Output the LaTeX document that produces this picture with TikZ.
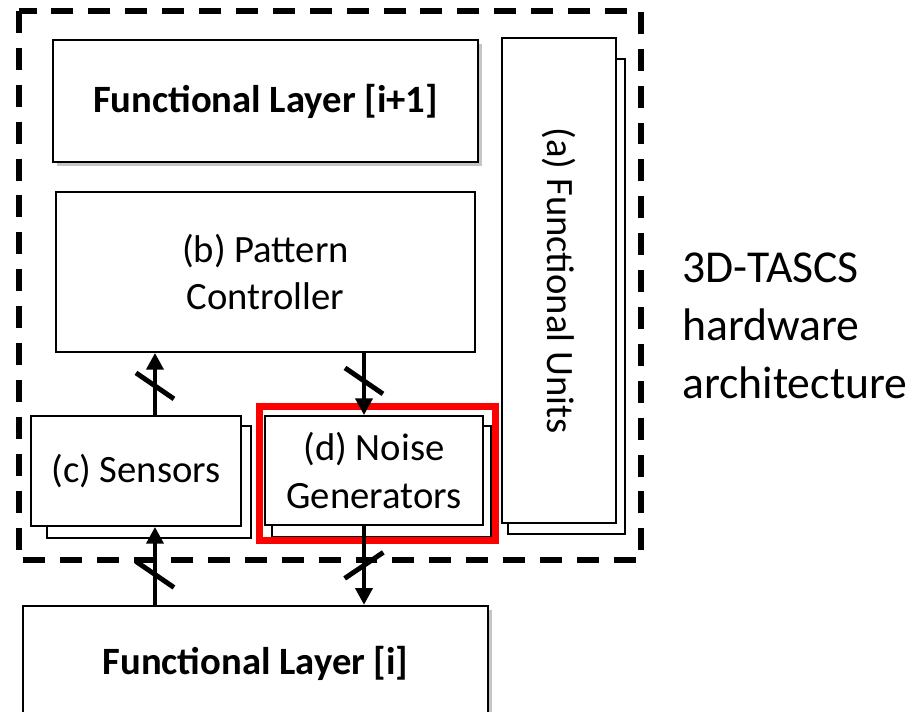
\documentclass[tikz,border=0pt]{standalone}
\usepackage{fontspec}
\setmainfont{Carlito}
\usepackage{tikz}
\usetikzlibrary{arrows.meta, positioning, backgrounds, shadows, decorations.markings}
\definecolor{hilite}{HTML}{FF0000}

\begin{document}
\begin{tikzpicture}[
  x=0.02cm, y=-0.02cm,
  font=\fontsize{22}{27}\selectfont,
  box/.style={rectangle, draw=black, line width=1pt, fill=white, align=center, inner sep=0pt},
  layer/.style={box, line width=1.3pt, font=\fontsize{22}{27}\selectfont\bfseries,
                drop shadow={shadow xshift=2.5pt, shadow yshift=-2.5pt, fill=black!45, opacity=0.5}},
  back/.style={draw=black, line width=1pt, fill=white},
  bus/.style={-{Triangle[length=9.5pt, width=9.5pt]}, line width=2.8pt},
  buscut/.style={postaction={decorate}, decoration={markings, mark=at position #1 with
                 {\draw[-, line width=2.8pt] (-7.4pt,-10.8pt) -- (7.4pt,10.8pt);}}},
  buscutr/.style={postaction={decorate}, decoration={markings, mark=at position #1 with
                 {\draw[-, line width=2.8pt] (7.4pt,-11pt) -- (-7.4pt,11pt);}}},
  frame/.style={draw=black, line width=3.4pt, dash pattern=on 12.5pt off 8.5pt},
  hilitebox/.style={draw=hilite, line width=4pt}
]
  \useasboundingbox (0,0) rectangle (923,711);

  \draw[frame] (19,11) rectangle (641,560);

  \node[layer, minimum width=8.5cm, minimum height=2.44cm] (top) at (265.5,101) {Functional Layer [i+1]};
  \node[box, minimum width=2.28cm, minimum height=9.7cm] (fu) at (559,280.5) {};
  \node[rotate=-90] (fulbl) at (fu.center) {(a) Functional Units};
  \node[box, minimum width=8.38cm, minimum height=3.2cm] (pc) at (265.5,272) {(b) Pattern\\Controller};
  \node[box, minimum width=4.2cm, minimum height=2.2cm] (sens) at (136,471) {(c) Sensors};
  \node[box, minimum width=4.36cm, minimum height=2.18cm] (ng) at (374,470.5) {(d) Noise\\Generators};
  \node[layer, minimum width=9.3cm, minimum height=2.28cm] (bot) at (255.5,663) {Functional Layer [i]};

  \begin{scope}[on background layer]
    \draw[back] ([shift={(7,22)}]fu.north west) rectangle ([shift={(8,10)}]fu.south east);
    \draw[back] ([shift={(17,11)}]sens.north west) rectangle ([shift={(9,11)}]sens.south east);
    \draw[back] ([shift={(8,11)}]ng.north west) rectangle ([shift={(7,11)}]ng.south east);
  \end{scope}

  \draw[hilitebox] (259.5,406.5) rectangle (495.5,540.5);

  \node[anchor=west, align=left, font=\fontsize{26}{33}\selectfont] (arch) at (676,326)
    {3D-TASCS\\hardware\\architecture};

  \coordinate (s1) at ([xshift=10.8pt]sens.north);
  \coordinate (s2) at ([xshift=10.8pt]sens.south);
  \coordinate (n1) at ([xshift=-5.7pt]ng.north);
  \coordinate (n2) at ([xshift=-5.7pt]ng.south);

  \draw[bus, buscut=0.47] (s1) -- (s1 |- pc.south);
  \draw[bus, buscut=0.45] (n1 |- pc.south) -- (n1);
  \draw[bus, buscut=0.39] (s2 |- bot.north) -- (s2);
  \draw[bus, buscutr=0.5] (n2) -- (n2 |- bot.north);
\end{tikzpicture}
\end{document}
